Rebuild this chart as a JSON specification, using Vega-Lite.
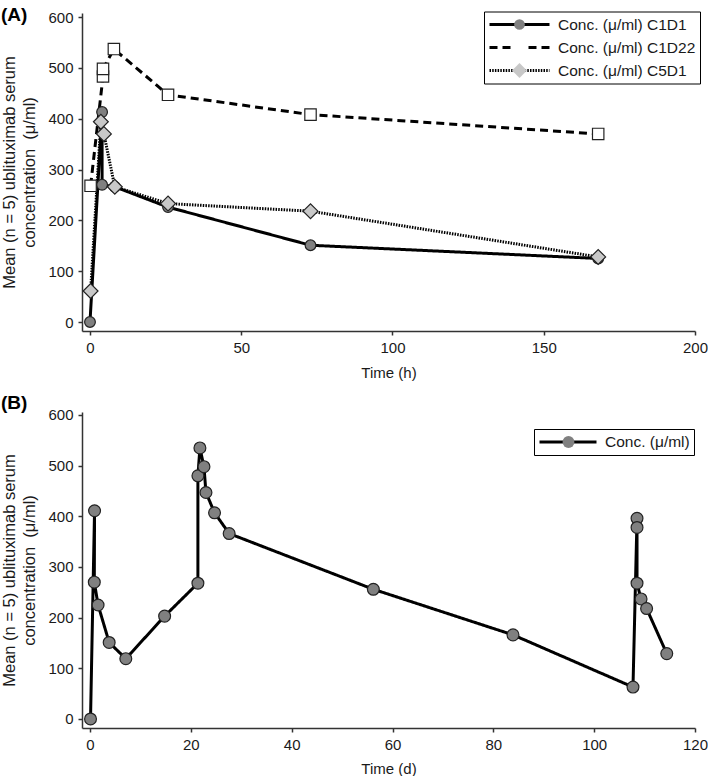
{
  "$schema": "https://vega.github.io/schema/vega-lite/v6.json",
  "padding": {"left": 0, "top": 6, "right": 0, "bottom": 0},
  "config": {
    "font": "Liberation Sans",
    "view": {"stroke": null},
    "axis": {"grid": false, "labelFlush": false, "domainColor": "#333", "domainWidth": 1.5, "tickColor": "#333", "tickWidth": 1.5, "tickSize": 4, "labelFontSize": 15, "labelColor": "#1a1a1a", "titleFontSize": 15, "titleFontWeight": "normal", "titleColor": "#1a1a1a", "labelPadding": 5}
  },
  "resolve": {
    "scale": {"x": "independent", "y": "independent", "shape": "independent", "fill": "independent", "size": "independent", "strokeDash": "independent"},
    "legend": {"shape": "independent", "fill": "independent", "size": "independent", "strokeDash": "independent"}
  },
  "datasets": {
    "A": [
      {"t": 0, "c": 0, "s": "Conc. (μ/ml) C1D1", "i": 1},
      {"t": 4, "c": 413, "s": "Conc. (μ/ml) C1D1", "i": 2},
      {"t": 4, "c": 270, "s": "Conc. (μ/ml) C1D1", "i": 3},
      {"t": 8.2, "c": 266, "s": "Conc. (μ/ml) C1D1", "i": 4},
      {"t": 25.8, "c": 226, "s": "Conc. (μ/ml) C1D1", "i": 5},
      {"t": 72.9, "c": 151, "s": "Conc. (μ/ml) C1D1", "i": 6},
      {"t": 168, "c": 125, "s": "Conc. (μ/ml) C1D1", "i": 7},
      {"t": 0.2, "c": 268, "s": "Conc. (μ/ml) C1D22", "i": 1},
      {"t": 4.3, "c": 483, "s": "Conc. (μ/ml) C1D22", "i": 2},
      {"t": 4.3, "c": 498, "s": "Conc. (μ/ml) C1D22", "i": 3},
      {"t": 7.9, "c": 537, "s": "Conc. (μ/ml) C1D22", "i": 4},
      {"t": 25.8, "c": 447, "s": "Conc. (μ/ml) C1D22", "i": 5},
      {"t": 72.9, "c": 408, "s": "Conc. (μ/ml) C1D22", "i": 6},
      {"t": 168, "c": 370, "s": "Conc. (μ/ml) C1D22", "i": 7},
      {"t": 0.2, "c": 61, "s": "Conc. (μ/ml) C5D1", "i": 1},
      {"t": 3.6, "c": 394, "s": "Conc. (μ/ml) C5D1", "i": 2},
      {"t": 4.6, "c": 370, "s": "Conc. (μ/ml) C5D1", "i": 3},
      {"t": 8.2, "c": 266, "s": "Conc. (μ/ml) C5D1", "i": 4},
      {"t": 25.8, "c": 233, "s": "Conc. (μ/ml) C5D1", "i": 5},
      {"t": 72.9, "c": 218, "s": "Conc. (μ/ml) C5D1", "i": 6},
      {"t": 168, "c": 128, "s": "Conc. (μ/ml) C5D1", "i": 7}
    ],
    "B": [
      {"t": 0.1, "c": 0, "s": "Conc. (μ/ml)", "i": 1},
      {"t": 0.9, "c": 411, "s": "Conc. (μ/ml)", "i": 2},
      {"t": 0.85, "c": 270, "s": "Conc. (μ/ml)", "i": 3},
      {"t": 1.6, "c": 225, "s": "Conc. (μ/ml)", "i": 4},
      {"t": 3.8, "c": 151, "s": "Conc. (μ/ml)", "i": 5},
      {"t": 7.1, "c": 119, "s": "Conc. (μ/ml)", "i": 6},
      {"t": 14.8, "c": 203, "s": "Conc. (μ/ml)", "i": 7},
      {"t": 21.4, "c": 268, "s": "Conc. (μ/ml)", "i": 8},
      {"t": 21.4, "c": 480, "s": "Conc. (μ/ml)", "i": 9},
      {"t": 21.8, "c": 535, "s": "Conc. (μ/ml)", "i": 10},
      {"t": 22.6, "c": 498, "s": "Conc. (μ/ml)", "i": 11},
      {"t": 23.0, "c": 447, "s": "Conc. (μ/ml)", "i": 12},
      {"t": 24.7, "c": 407, "s": "Conc. (μ/ml)", "i": 13},
      {"t": 27.6, "c": 366, "s": "Conc. (μ/ml)", "i": 14},
      {"t": 56.2, "c": 256, "s": "Conc. (μ/ml)", "i": 15},
      {"t": 83.9, "c": 166, "s": "Conc. (μ/ml)", "i": 16},
      {"t": 107.7, "c": 63, "s": "Conc. (μ/ml)", "i": 17},
      {"t": 108.5, "c": 396, "s": "Conc. (μ/ml)", "i": 18},
      {"t": 108.5, "c": 378, "s": "Conc. (μ/ml)", "i": 19},
      {"t": 108.5, "c": 268, "s": "Conc. (μ/ml)", "i": 20},
      {"t": 109.3, "c": 237, "s": "Conc. (μ/ml)", "i": 21},
      {"t": 110.4, "c": 218, "s": "Conc. (μ/ml)", "i": 22},
      {"t": 114.4, "c": 129, "s": "Conc. (μ/ml)", "i": 23}
    ]
  },
  "bounds": "flush",
  "spacing": 81,
  "vconcat": [
    {
      "width": 613,
      "height": 318,
      "title": {"text": "(A)", "anchor": "start", "frame": "bounds", "fontSize": 19, "fontWeight": "bold", "color": "#000", "dx": -1, "offset": -15},
      "data": {"name": "A"},
      "encoding": {
        "x": {"field": "t", "type": "quantitative", "scale": {"domain": [-2.64, 200], "nice": false, "zero": false}, "axis": {"values": [0, 50, 100, 150, 200], "title": "Time (h)", "titlePadding": 10}},
        "y": {"field": "c", "type": "quantitative", "scale": {"domain": [-17.7, 607.9], "nice": false, "zero": false}, "axis": {"values": [0, 100, 200, 300, 400, 500, 600], "title": ["Mean (n = 5) ublituximab serum", "concentration \u00a0(μ/ml)"], "titleFontSize": 16.5, "titlePadding": 10, "titleLineHeight": 20}}
      },
      "layer": [
        {
          "mark": {"type": "line", "color": "#000", "strokeWidth": 3},
          "encoding": {
            "order": {"field": "i", "type": "quantitative"},
            "strokeDash": {"field": "s", "type": "nominal",
              "scale": {"domain": ["Conc. (μ/ml) C1D1", "Conc. (μ/ml) C1D22", "Conc. (μ/ml) C5D1"], "range": [[1, 0], [8, 5], [1.5, 1.2]]},
              "legend": {"orient": "none", "legendX": 402, "legendY": -1.5, "title": null, "symbolType": "stroke", "symbolSize": 3600, "symbolStrokeWidth": 3, "symbolStrokeColor": "#000", "labelFontSize": 15.5, "labelColor": "#1a1a1a", "labelOffset": 7, "labelLimit": 300, "strokeColor": "#000", "padding": 4, "clipHeight": 18, "rowPadding": 5, "zindex": 1}}
          }
        },
        {
          "mark": {"type": "point", "filled": true, "stroke": "#222", "strokeWidth": 1.2, "opacity": 1},
          "encoding": {
            "shape": {"field": "s", "type": "nominal", "scale": {"range": ["circle", "square", "diamond"]},
              "legend": {"orient": "none", "legendX": 425, "legendY": -1.5, "title": null, "labelOpacity": 0, "labelFontSize": 15, "labelOffset": 9, "padding": 4, "clipHeight": 18, "rowPadding": 5, "zindex": 2, "symbolStrokeColor": "#222", "symbolStrokeWidth": 1.2, "symbolOpacity": 1}},
            "fill": {"field": "s", "type": "nominal", "scale": {"range": ["#808080", "#ffffff", "#c8c8c8"]},
              "legend": {"orient": "none", "legendX": 425, "legendY": -1.5, "title": null, "labelOpacity": 0, "labelFontSize": 15, "labelOffset": 9, "padding": 4, "clipHeight": 18, "rowPadding": 5, "zindex": 2, "symbolStrokeColor": "#222", "symbolStrokeWidth": 1.2, "symbolOpacity": 1}},
            "size": {"field": "s", "type": "nominal", "scale": {"type": "ordinal", "range": [115, 130, 220]},
              "legend": {"orient": "none", "legendX": 425, "legendY": -1.5, "title": null, "labelOpacity": 0, "labelFontSize": 15, "labelOffset": 9, "padding": 4, "clipHeight": 18, "rowPadding": 5, "zindex": 2, "symbolStrokeColor": "#222", "symbolStrokeWidth": 1.2, "symbolOpacity": 1}}
          }
        }
      ]
    },
    {
      "width": 613,
      "height": 316,
      "title": {"text": "(B)", "anchor": "start", "frame": "bounds", "fontSize": 19, "fontWeight": "bold", "color": "#000", "dx": -1, "offset": -5},
      "data": {"name": "B"},
      "encoding": {
        "x": {"field": "t", "type": "quantitative", "scale": {"domain": [-1.59, 120], "nice": false, "zero": false}, "axis": {"values": [0, 20, 40, 60, 80, 100, 120], "title": "Time (d)", "titlePadding": 9}},
        "y": {"field": "c", "type": "quantitative", "scale": {"domain": [-17.8, 605.9], "nice": false, "zero": false}, "axis": {"values": [0, 100, 200, 300, 400, 500, 600], "title": ["Mean (n = 5) ublituximab serum", "concentration \u00a0(μ/ml)"], "titleFontSize": 16.5, "titlePadding": 10, "titleLineHeight": 20}}
      },
      "layer": [
        {
          "mark": {"type": "line", "color": "#000", "strokeWidth": 3},
          "encoding": {
            "order": {"field": "i", "type": "quantitative"},
            "strokeDash": {"field": "s", "type": "nominal",
              "scale": {"domain": ["Conc. (μ/ml)"], "range": [[1, 0]]},
              "legend": {"orient": "none", "legendX": 452, "legendY": 17, "title": null, "symbolType": "stroke", "symbolSize": 3249, "symbolStrokeWidth": 3, "symbolStrokeColor": "#000", "labelFontSize": 15.5, "labelColor": "#1a1a1a", "labelOffset": 7, "labelLimit": 300, "strokeColor": "#000", "padding": 4, "clipHeight": 18, "rowPadding": 5, "zindex": 1}}
          }
        },
        {
          "mark": {"type": "point", "filled": true, "stroke": "#222", "strokeWidth": 1.2, "opacity": 1, "size": 140},
          "encoding": {
            "shape": {"field": "s", "type": "nominal", "scale": {"range": ["circle"]},
              "legend": {"orient": "none", "legendX": 475, "legendY": 17, "title": null, "labelOpacity": 0, "labelFontSize": 15, "labelOffset": 8, "padding": 4, "clipHeight": 18, "rowPadding": 5, "zindex": 2, "symbolStrokeColor": "#222", "symbolStrokeWidth": 1.2, "symbolOpacity": 1, "symbolSize": 140}},
            "fill": {"field": "s", "type": "nominal", "scale": {"range": ["#808080"]},
              "legend": {"orient": "none", "legendX": 475, "legendY": 17, "title": null, "labelOpacity": 0, "labelFontSize": 15, "labelOffset": 8, "padding": 4, "clipHeight": 18, "rowPadding": 5, "zindex": 2, "symbolStrokeColor": "#222", "symbolStrokeWidth": 1.2, "symbolOpacity": 1, "symbolSize": 140}}
          }
        }
      ]
    }
  ]
}
